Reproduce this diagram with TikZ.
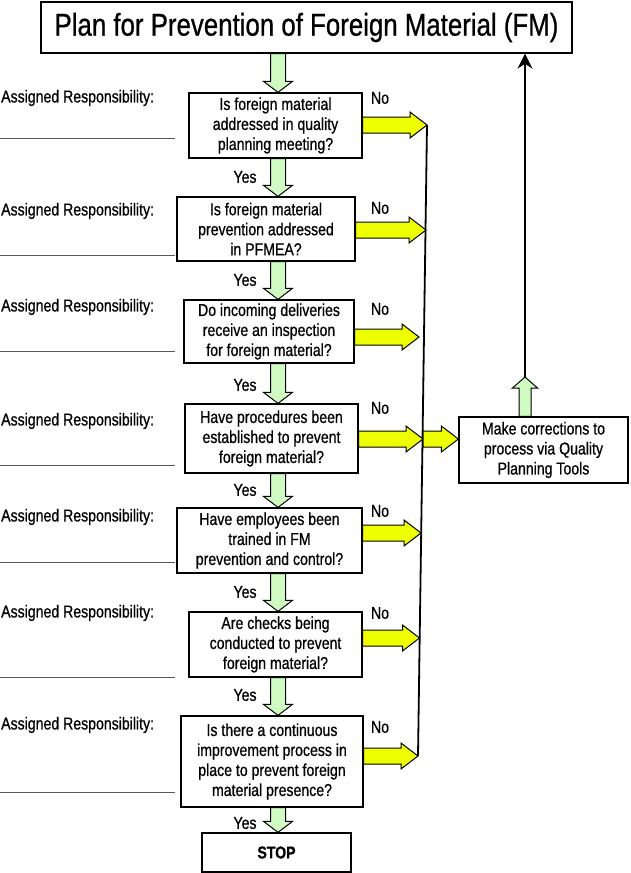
\documentclass[tikz,border=0pt]{standalone}
\usepackage{fontspec}
\setmainfont{Liberation Sans}[FakeStretch=0.82,FakeBold=0.7]
\usetikzlibrary{arrows.meta,calc}
\definecolor{yesgreen}{RGB}{208,252,196}
\definecolor{noyellow}{RGB}{238,255,0}
\newcommand{\bodyfont}{\fontsize{17.2}{20}\selectfont}
\tikzset{
  qbox/.style    ={draw=black,line width=1.3pt,fill=white,align=center,
                   inner sep=0pt,font=\bodyfont},
  titlebox/.style={qbox,font=\fontsize{31.5}{34}\selectfont},
  ann/.style     ={font=\bodyfont,inner sep=0pt},
  resp/.style    ={ann,anchor=west},
  blank/.style   ={draw=black!65,line width=0.9pt},
  bus/.style     ={draw=black,line width=1.8pt},
  yesfat/.style  ={draw=black,line width=1pt,fill=yesgreen,line join=miter},
  nofat/.style   ={draw=black,line width=1pt,fill=noyellow,line join=miter},
}
% fat arrows: #1 start, #2 tip
\newcommand{\yesdown}[2]{%
  \path[yesfat] let \p1=#1, \p2=#2 in
    (\x1-7.5pt,\y1) -- (\x1-7.5pt,\y2+11pt) -- (\x1-14.5pt,\y2+11pt) -- (\x1,\y2)
    -- (\x1+14.5pt,\y2+11pt) -- (\x1+7.5pt,\y2+11pt) -- (\x1+7.5pt,\y1) -- cycle;}
\newcommand{\yesup}[2]{%
  \path[yesfat] let \p1=#1, \p2=#2 in
    (\x1-6pt,\y1) -- (\x1-6pt,\y2-11pt) -- (\x1-12.5pt,\y2-11pt) -- (\x1,\y2)
    -- (\x1+12.5pt,\y2-11pt) -- (\x1+6pt,\y2-11pt) -- (\x1+6pt,\y1) -- cycle;}
\newcommand{\noright}[2]{%
  \path[nofat] let \p1=#1, \p2=#2 in
    (\x1,\y1+8pt) -- (\x2-17pt,\y1+8pt) -- (\x2-17pt,\y1+13pt) -- (\x2,\y1)
    -- (\x2-17pt,\y1-13pt) -- (\x2-17pt,\y1-8pt) -- (\x1,\y1-8pt) -- cycle;}

\begin{document}
\begin{tikzpicture}[x=1pt,y=-1pt,>={Stealth[length=15pt,width=15pt]}]
\useasboundingbox (0,0) rectangle (631,873);

% Boxes
\node[titlebox,minimum width=531,minimum height=51] (title) at (306.5,27.5)
  {Plan for Prevention of Foreign Material (FM)};
\node[qbox,minimum width=173,minimum height=65] (q1) at (275.5,125.5)
  {Is foreign material\\addressed in quality\\planning meeting?};
\node[qbox,minimum width=178,minimum height=64] (q2) at (266,229)
  {Is foreign material\\prevention addressed\\in PFMEA?};
\node[qbox,minimum width=170,minimum height=63] (q3) at (269,331.5)
  {Do incoming deliveries\\receive an inspection\\for foreign material?};
\node[qbox,minimum width=173,minimum height=69] (q4) at (271.5,438.5)
  {Have procedures been\\established to prevent\\foreign material?};
\node[qbox,minimum width=185,minimum height=65] (q5) at (269.5,540.5)
  {Have employees been\\trained in FM\\prevention and control?};
\node[qbox,minimum width=173,minimum height=65] (q6) at (275.5,644.5)
  {Are checks being\\conducted to prevent\\foreign material?};
\node[qbox,minimum width=182,minimum height=91] (q7) at (272,761.5)
  {Is there a continuous\\improvement process in\\place to prevent foreign\\material presence?};
\node[qbox,minimum width=149,minimum height=39,font=\bodyfont\bfseries] (stop) at (276.5,852.5) {STOP};
\node[qbox,minimum width=169,minimum height=66] (corr) at (543.5,450)
  {Make corrections to\\process via Quality\\Planning Tools};

% Left column
\foreach \y [count=\i] in {98,211,307,421,517,613,725}
  \node[resp] (resp\i) at (1,\y) {Assigned Responsibility:};
\foreach \y in {138,255,351,465,562,677,792}
  \draw[blank] (0,\y) -- (175,\y);

% Yes / No labels
\foreach \y [count=\i] in {177,280,385,490,592,695,823}
  \node[ann] (yes\i) at (245,\y) {Yes};
\foreach \y [count=\i] in {98,208,309,408,511,613,727}
  \node[ann] (no\i) at (380,\y) {No};

% Coordinates
\coordinate (spine) at (278,0);
\coordinate (bustop) at (427,125);
\coordinate (busbot) at (418,756);
\coordinate (n1) at (427,125);
\coordinate (n2) at (426,230);
\coordinate (n3) at (419,337);
\coordinate (n4) at (423,439);
\coordinate (n5) at (421,533);
\coordinate (n6) at (419.5,638);
\coordinate (n7) at (418,756);
\coordinate (up) at (525,377);

% Yes arrows
\yesdown{(title.south -| spine)}{(q1.north -| spine)}
\foreach \a/\b in {q1/q2,q2/q3,q3/q4,q4/q5,q5/q6,q6/q7,q7/stop}
  \yesdown{(\a.south -| spine)}{(\b.north -| spine)};

% No arrows
\draw[bus] (bustop) -- (busbot);
\foreach \a/\t in {q1/n1,q2/n2,q3/n3,q4/n4,q5/n5,q6/n6,q7/n7}
  \noright{(\a.east |- \t)}{(\t)};
\noright{(n4)}{(corr.west |- n4)}

% Back to the plan
\yesup{(corr.north -| up)}{(up)}
\draw[->,line width=1.6pt] (up) -- (title.south -| up);

\end{tikzpicture}
\end{document}
